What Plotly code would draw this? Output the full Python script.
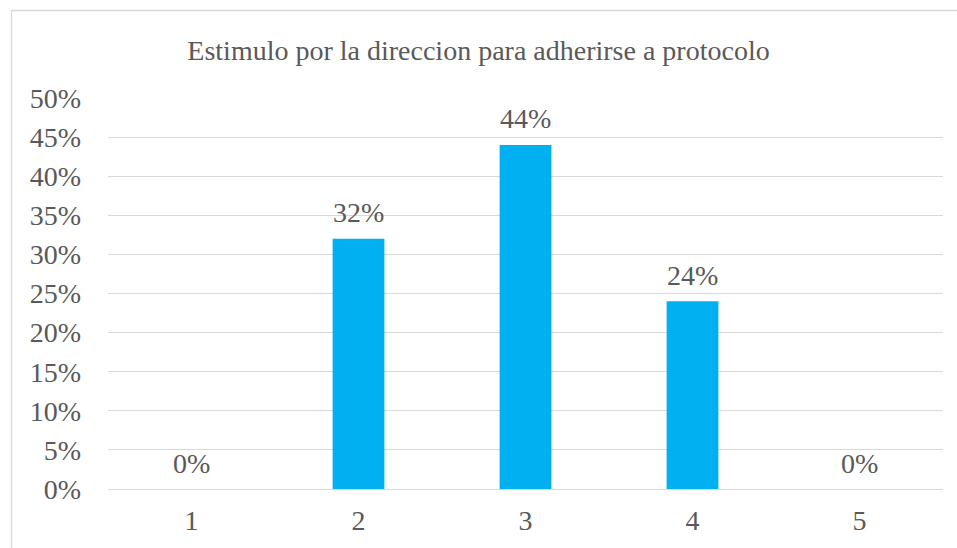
import plotly.graph_objects as go

categories = ["1", "2", "3", "4", "5"]
values = [0.0, 0.32, 0.44, 0.24, 0.0]
labels = ["0%", "32%", "44%", "24%", "0%"]
title = "Estimulo por la direccion para adherirse a protocolo"

FONT = "Liberation Serif"
GRAY = "#595959"
FS = 28

fig = go.Figure()
fig.add_trace(go.Bar(
    x=categories, y=values, width=0.31,
    marker=dict(color="#00B0F0", line=dict(width=0)),
))

for i, (v, t) in enumerate(zip(values, labels)):
    fig.add_annotation(x=i, y=v, text=t, showarrow=False, yanchor="middle",
                       yshift=26, font=dict(family=FONT, size=FS, color=GRAY))

fig.update_layout(
    width=957, height=548,
    margin=dict(l=108, r=14, t=98, b=59),
    paper_bgcolor="white", plot_bgcolor="white",
    showlegend=False,
    title=dict(text=title, x=0.5, xanchor="center", y=0.908, yanchor="middle",
               font=dict(family=FONT, size=FS, color=GRAY)),
    xaxis=dict(type="category", range=[-0.5, 4.5], showgrid=False, showline=False, ticks="",
               ticklabelstandoff=12,
               tickfont=dict(family=FONT, size=FS, color=GRAY)),
    yaxis=dict(range=[0, 0.5], dtick=0.05, tickformat=".0%",
               showgrid=True, gridcolor="#D9D9D9", gridwidth=1.3,
               zeroline=True, zerolinecolor="#D9D9D9", zerolinewidth=1.3,
               ticks="", ticklen=0, ticklabelstandoff=26,
               tickfont=dict(family=FONT, size=FS, color=GRAY)),
    shapes=[dict(type="rect", xref="paper", yref="paper",
                 x0=(11.5 - 108) / 835, x1=1.2, y0=-0.3, y1=(489 - 10.5) / 391,
                 line=dict(color="#D9D9D9", width=1.3), fillcolor="rgba(0,0,0,0)",
                 layer="below")],
)

fig.write_html("out.html")
